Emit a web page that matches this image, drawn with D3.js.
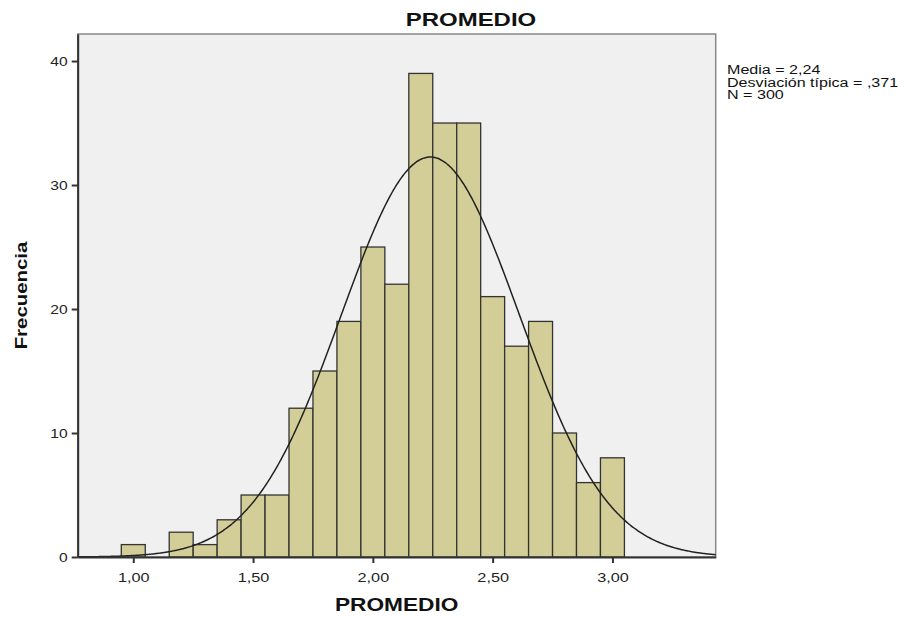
<!DOCTYPE html>
<html><head><meta charset="utf-8">
<script src="https://cdn.jsdelivr.net/npm/d3@7/dist/d3.min.js"></script>
<style>body{margin:0;background:#fff;}svg{display:block;font-family:Arial,"Liberation Sans",sans-serif;}</style>
</head><body><svg id="c" width="907" height="617"></svg>
<script>
const binStarts = [0.95,1.05,1.15,1.25,1.35,1.45,1.55,1.65,1.75,1.85,1.95,2.05,2.15,2.25,2.35,2.45,2.55,2.65,2.75,2.85,2.95];
const counts    = [1,0,2,1,3,5,5,12,15,19,25,22,39,35,35,21,17,19,10,6,8];
const binWidth = 0.1;
const xTicks = [1.0,1.5,2.0,2.5,3.0];
const yTicks = [0,10,20,30,40];
const mean = 2.24, sd = 0.371, N = 300;
const statsLines = ["Media = 2,24","Desviación típica = ,371","N = 300"];

const svg = d3.select("#c");
const L=77.7, R=715.7, T=34, B=557;
const x = d3.scaleLinear().domain([0.768,3.431]).range([L,R]);
const y = d3.scaleLinear().domain([0,42.18]).range([B,T]);

function stretch(sel, f){ sel.each(function(){ const w=this.getComputedTextLength();
  d3.select(this).attr("textLength",w*f).attr("lengthAdjust","spacingAndGlyphs"); }); }

svg.append("rect").attr("x",L).attr("y",T).attr("width",R-L).attr("height",B-T)
  .attr("fill","#f0f0f0").attr("stroke","#888").attr("stroke-width",1.5);

const bars = binStarts.map((s,i)=>({s,c:counts[i]})).filter(d=>d.c>0);
svg.append("g").selectAll("rect").data(bars).join("rect")
  .attr("x",d=>x(d.s)).attr("width",d=>x(d.s+binWidth)-x(d.s))
  .attr("y",d=>y(d.c)).attr("height",d=>y(0)-y(d.c))
  .attr("fill","#d3ce97").attr("stroke","#333").attr("stroke-width",1.3);

const pts = d3.range(0,401).map(i=>{const v=0.768+(3.431-0.768)*i/400;
  return [v, N*binWidth/(sd*Math.sqrt(2*Math.PI))*Math.exp(-0.5*((v-mean)/sd)**2)];});
svg.append("path").datum(pts).attr("fill","none").attr("stroke","#222").attr("stroke-width",1.5)
  .attr("d",d3.line().x(d=>x(d[0])).y(d=>y(d[1])).curve(d3.curveBasis));

const fmt = d=>d3.format(".2f")(d).replace(".",",");
const gx = svg.append("g").attr("transform",`translate(0,${B})`)
  .call(d3.axisBottom(x).tickValues(xTicks).tickFormat(fmt).tickSize(6).tickSizeOuter(0));
const gy = svg.append("g").attr("transform",`translate(${L},0)`)
  .call(d3.axisLeft(y).tickValues(yTicks).tickSize(6).tickSizeOuter(0));
[gx,gy].forEach(g=>{
  g.select(".domain").attr("stroke","#333").attr("stroke-width",2);
  g.selectAll(".tick line").attr("stroke","#333").attr("stroke-width",2);
  g.selectAll(".tick text").attr("fill","#222").attr("font-size",13).attr("font-family","Arial, 'Liberation Sans', sans-serif");
});
gx.selectAll(".tick text").attr("dy","1.2em");
gy.selectAll(".tick text").attr("dx","-1px");
stretch(gx.selectAll(".tick text"),1.25);
stretch(gy.selectAll(".tick text"),1.2);

const t1 = svg.append("text").attr("x",471).attr("y",26).attr("text-anchor","middle")
  .attr("font-size",19).attr("font-weight","bold").attr("fill","#111").text("PROMEDIO");
const t2 = svg.append("text").attr("x",(L+R)/2).attr("y",611).attr("text-anchor","middle")
  .attr("font-size",18).attr("font-weight","bold").attr("fill","#111").text("PROMEDIO");
const t3 = svg.append("text").attr("transform",`translate(27,${(T+B)/2}) rotate(-90)`).attr("text-anchor","middle")
  .attr("font-size",17).attr("font-weight","bold").attr("fill","#111").text("Frecuencia");
stretch(t1,1.26); stretch(t2,1.26); stretch(t3,1.2);

const st = svg.append("g").selectAll("text").data(statsLines).join("text")
  .attr("x",727).attr("y",(d,i)=>74+i*12.5).attr("font-size",12).attr("fill","#111").text(d=>d);
stretch(st,1.34);
</script></body></html>
